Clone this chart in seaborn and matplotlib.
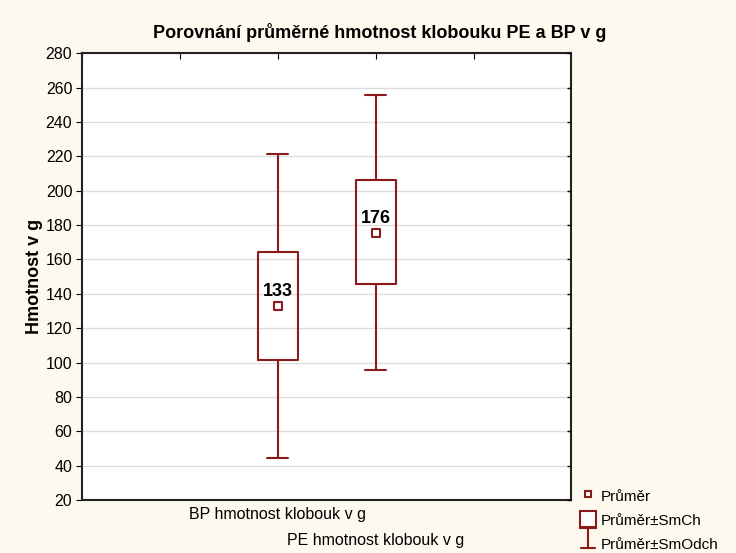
import matplotlib.pyplot as plt
import matplotlib.lines as mlines
import matplotlib.patches as mpatches
from matplotlib.legend_handler import HandlerBase
import pandas as pd
import seaborn as sns

# Values (mean, mean +/- SE, mean +/- SD)
groups = ['BP hmotnost klobouk v g', 'PE hmotnost klobouk v g']
means = [132.8, 175.6]
se_low = [101.6, 145.5]
se_high = [164.2, 206.0]
sd_low = [44.6, 95.8]
sd_high = [221.2, 255.8]

sns.set_style('white')
plt.rcParams['font.family'] = ['Liberation Sans', 'DejaVu Sans']
plt.rcParams['text.color'] = 'black'
plt.rcParams['xtick.color'] = 'black'
plt.rcParams['ytick.color'] = 'black'
plt.rcParams['axes.labelcolor'] = 'black'

red = '#8B1A1A'
bg = '#FDF9EE'


class IBarHandler(HandlerBase):
    # legend handle: vertical line with two caps
    def create_artists(self, legend, orig_handle, xd, yd, w, h, fontsize, trans):
        cx = xd + w / 2
        cw = w * 0.45
        y0, y1 = yd - h * 0.15, yd + h * 1.05
        kw = dict(color=red, linewidth=1.5, transform=trans)
        return [mlines.Line2D([cx, cx], [y0, y1], **kw),
                mlines.Line2D([cx - cw, cx + cw], [y0, y0], **kw),
                mlines.Line2D([cx - cw, cx + cw], [y1, y1], **kw)]


fig = plt.figure(figsize=(7.36, 5.53), dpi=100, facecolor=bg)
ax = fig.add_axes([0.1114, 0.0958, 0.665, 0.808])
ax.set_facecolor('white')

df = pd.DataFrame({'group': groups, 'mean': means})

# box = mean +/- SE, whiskers = mean +/- SD
stats = []
for i in range(len(groups)):
    stats.append({'med': means[i], 'q1': se_low[i], 'q3': se_high[i],
                  'whislo': sd_low[i], 'whishi': sd_high[i], 'fliers': []})
ax.bxp(stats, positions=[0, 1], widths=0.41, showfliers=False,
       boxprops=dict(color=red, linewidth=1.5),
       whiskerprops=dict(color=red, linewidth=1.5),
       capprops=dict(color=red, linewidth=1.5),
       medianprops=dict(linewidth=0), capwidths=0.21, manage_ticks=False)

sns.scatterplot(data=df, x=[0, 1], y='mean', marker='s', s=28,
                facecolor='white', edgecolor=red, linewidth=1.5, ax=ax, zorder=5)

for i, m in enumerate(means):
    ax.text(i, m + 3.5, f'{m:.0f}', ha='center', va='bottom',
            fontsize=13, fontweight='bold', color='black')

ax.set_xlim(-2, 3)
ax.set_ylim(20, 280)
ax.set_yticks(range(20, 281, 20))
ax.set_xticks(range(-2, 4))
ax.set_xticklabels(['', '', groups[0], groups[1], '', ''])
ax.tick_params(axis='x', direction='in', top=True, length=4, labelsize=11.5, pad=5)
ax.xaxis.get_major_ticks()[3].set_pad(24)
ax.tick_params(axis='y', direction='out', length=4, labelsize=11.5, pad=3)

# inward ticks on the right frame
ax2 = ax.twinx()
ax2.set_ylim(ax.get_ylim())
ax2.set_yticks(range(20, 281, 20))
ax2.tick_params(direction='in', length=3, labelright=False, width=1.0)
for s in ax2.spines.values():
    s.set_visible(False)

ax.grid(axis='y', color='#dddddd', linewidth=1)
ax.set_axisbelow(True)
for s in ax.spines.values():
    s.set_color('#222222')
    s.set_linewidth(1.5)

ax.set_xlabel('')
ax.set_ylabel('Hmotnost v g', fontsize=13, fontweight='bold', labelpad=2)
fig.suptitle('Porovnání průměrné hmotnost klobouku PE a BP v g',
             x=0.516, y=0.958, fontsize=13, fontweight='bold')

h1 = mlines.Line2D([], [], marker='s', markersize=5, markerfacecolor='white',
                   markeredgecolor=red, markeredgewidth=1.5, linestyle='None')
h2 = mpatches.Rectangle((0, 0), 1, 1, facecolor='white', edgecolor=red, linewidth=1.5)
h3 = mpatches.Rectangle((0, 0), 1, 1)
fig.legend([h1, h2, h3], ['Průměr', 'Průměr±SmCh', 'Průměr±SmOdch'],
           handler_map={h3: IBarHandler()},
           loc='lower left', bbox_to_anchor=(0.77, -0.024), frameon=False,
           fontsize=11, handlelength=1.0, handleheight=1.4, handletextpad=0.3,
           labelspacing=0.42)

fig.savefig('out.png', dpi=100, facecolor=bg)
